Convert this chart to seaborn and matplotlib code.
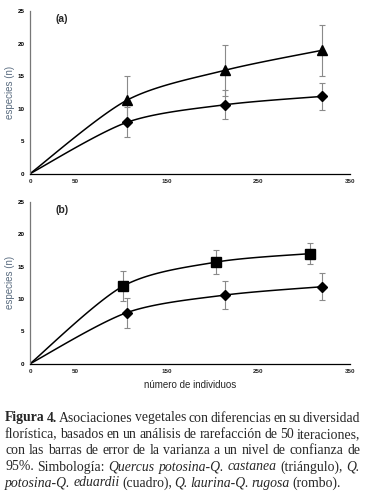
import numpy as np
import matplotlib
matplotlib.use('Agg')
import matplotlib.pyplot as plt
import seaborn as sns

# datos (rarefaccion)
x_tri = [0, 106, 213, 320]
y_tri = [0, 11.3, 15.9, 19.0]
e_tri = [0, 3.7, 3.9, 3.9]

x_rom = [0, 106, 213, 320]
y_rom = [0, 7.9, 10.6, 11.9]
e_rom = [0, 2.3, 2.2, 2.1]

x_cua = [0, 102, 204, 306]
y_cua = [0, 12.0, 15.7, 17.0]
e_cua = [0, 2.3, 1.9, 1.65]

xticks = [0, 50, 100, 150, 200, 250, 300, 350]
xticklabels = ['0', '50', '', '150', '', '250', '', '350']
yticks = [0, 5, 10, 15, 20, 25]

caption = [
    [('Figura 4.', 'b'), ('Asociaciones vegetales con diferencias en su diversidad', 'n')],
    [('florística, basados en un análisis de rarefacción de 50 iteraciones,', 'n')],
    [('con las barras de error de la varianza a un nivel de confianza de', 'n')],
    [('95%. Simbología:', 'n'), ('Quercus potosina-Q. castanea', 'i'), ('(triángulo),', 'n'), ('Q.', 'i')],
    [('potosina-Q. eduardii', 'i'), ('(cuadro),', 'n'), ('Q. laurina-Q. rugosa', 'i'), ('(rombo).', 'n')],
]


def suavizar(xs, ys, n=40):
    # curva suavizada tipo Excel (Bezier)
    p = np.column_stack([xs, ys]).astype(float)
    pts = np.vstack([p[0], p, p[-1]])
    out = []
    for i in range(1, len(pts) - 2):
        p0, p1, p2, p3 = pts[i - 1], pts[i], pts[i + 1], pts[i + 2]
        c1 = p1 + (p2 - p0) / 7
        c2 = p2 - (p3 - p1) / 7
        t = np.linspace(0, 1, n)[:, None]
        seg = (1 - t) ** 3 * p1 + 3 * (1 - t) ** 2 * t * c1 + 3 * (1 - t) * t ** 2 * c2 + t ** 3 * p2
        out.append(seg)
    out = np.vstack(out)
    return out[:, 0], out[:, 1]


sns.set_style('white')
plt.rcParams['font.family'] = ['Liberation Sans', 'DejaVu Sans']

fig = plt.figure(figsize=(3.66, 4.97), dpi=100)
ax_a = fig.add_axes([0.082, 0.6505, 0.874, 0.327])
ax_b = fig.add_axes([0.082, 0.268, 0.874, 0.326])


def panel(ax, series, label):
    for xs, ys, es, mk, ms in series:
        sx, sy = suavizar(xs, ys)
        sns.lineplot(x=sx, y=sy, ax=ax, color='black', linewidth=1.1, sort=False, estimator=None)
        ax.errorbar(xs[1:], ys[1:], yerr=es[1:], fmt='none', ecolor='#8a8a8a',
                    elinewidth=0.8, capsize=2.5, capthick=0.8, zorder=3)
        ax.plot(xs[1:], ys[1:], linestyle='none', marker=mk, markersize=ms,
                color='black', zorder=4)
    ax.set_xlim(0, 350)
    ax.set_ylim(0, 25)
    ax.set_xticks(xticks)
    ax.set_xticklabels(xticklabels)
    ax.set_yticks(yticks)
    for t in ax.get_xticklabels() + ax.get_yticklabels():
        t.set_fontsize(4.5)
        t.set_fontweight('bold')
    ax.tick_params(axis='both', direction='out', length=2, width=0.8, pad=2, color='black')
    ax.tick_params(axis='y', colors='#555555', labelcolor='black')
    sns.despine(ax=ax)
    ax.spines['left'].set_color('#777777')
    ax.spines['bottom'].set_color('black')
    ax.spines['left'].set_linewidth(0.9)
    ax.spines['bottom'].set_linewidth(0.9)
    ax.set_ylabel('especies (n)', fontsize=7, color='#5a6c80', labelpad=2)
    ax.text(0.08, 0.95, label, transform=ax.transAxes, fontsize=7.5,
            fontweight='bold', va='center', ha='left')


panel(ax_a, [(x_tri, y_tri, e_tri, '^', 7), (x_rom, y_rom, e_rom, 'D', 5)], '(a)')
panel(ax_b, [(x_cua, y_cua, e_cua, 's', 6.5), (x_rom, y_rom, e_rom, 'D', 5)], '(b)')
ax_b.set_xlabel('número de individuos', fontsize=7, labelpad=4)

# pie de figura justificado
renderer = fig.canvas.get_renderer()
x0, x1 = 5 / 366, 360 / 366
y_lineas = [418, 435, 451, 467, 483]
for k, linea in enumerate(caption):
    palabras = []
    for txt, st in linea:
        for w in txt.split(' '):
            palabras.append((w, st))
    objs = []
    for w, st in palabras:
        t = fig.text(0, 1 - y_lineas[k] / 497, w, fontsize=9.9,
                     family='Liberation Serif',
                     fontweight='bold' if st == 'b' else 'normal',
                     fontstyle='italic' if st == 'i' else 'normal',
                     va='center', ha='left')
        objs.append(t)
    anchos = [o.get_window_extent(renderer).width / fig.bbox.width for o in objs]
    if k < len(caption) - 1:
        hueco = (x1 - x0 - sum(anchos)) / (len(objs) - 1)
    else:
        hueco = 2.6 / 366
    pos = x0
    for o, w in zip(objs, anchos):
        o.set_x(pos)
        pos += w + hueco

fig.savefig('out.png', dpi=100)
